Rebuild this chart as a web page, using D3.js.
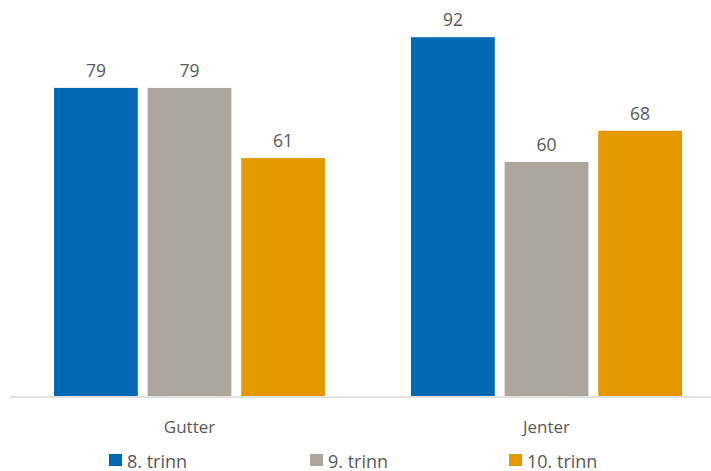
<!DOCTYPE html>
<html>
<head>
<meta charset="utf-8">
<script src="https://cdn.jsdelivr.net/npm/d3@7"></script>
<style>
  body { margin: 0; background: #fff; }
  text { font-family: "Open Sans", "Noto Sans", sans-serif; fill: #595959; }
</style>
</head>
<body>
<svg id="chart"></svg>
<script>
const width = 711;
const height = 471;

// data
const categories = ["Gutter", "Jenter"];
const series = ["8. trinn", "9. trinn", "10. trinn"];
const values = {
  "8. trinn": [79, 92],
  "9. trinn": [79, 60],
  "10. trinn": [61, 68]
};
const colors = ["#0069B4", "#ADA69F", "#E69800"];

const svg = d3.select('svg#chart').attr('width', width).attr('height', height)

const baseline = 396

var yScale = d3.scaleLinear()
  .domain([0, 100])
  .range([baseline, 6])

var x0 = d3.scaleBand()
  .domain(categories)
  .range([11, 725])

var x1 = d3.scaleBand()
  .domain(series)
  .range([43, 314])
  .paddingInner(0.105)

var colorScale = d3.scaleOrdinal().domain(series).range(colors)

var rows = []
series.forEach(s => categories.forEach((c, i) => rows.push({ series: s, cat: c, value: values[s][i] })))

// axis line
svg.append('line')
  .attr('x1', 10).attr('x2', width)
  .attr('y1', baseline + 1).attr('y2', baseline + 1)
  .attr('stroke', '#d9d9d9').attr('stroke-width', 1.5)

svg.append('g').selectAll('rect').data(rows)
  .enter().append('rect')
  .attr('x', d => x0(d.cat) + x1(d.series))
  .attr('y', d => yScale(d.value))
  .attr('width', x1.bandwidth())
  .attr('height', d => baseline - yScale(d.value))
  .attr('fill', d => colorScale(d.series))

svg.append('g').selectAll('text').data(rows)
  .enter().append('text')
  .attr('x', d => x0(d.cat) + x1(d.series) + x1.bandwidth() / 2)
  .attr('y', d => yScale(d.value) - 11)
  .attr('text-anchor', 'middle')
  .style('font-size', '17.5px')
  .text(d => d.value)

// category labels
svg.append('g').selectAll('text').data(categories)
  .enter().append('text')
  .attr('x', d => x0(d) + x0.bandwidth() / 2)
  .attr('y', 433)
  .attr('text-anchor', 'middle')
  .style('font-size', '17px')
  .text(d => d)

// legend
var legendX = [109, 310, 509]
var legend = svg.append('g').selectAll('g').data(series)
  .enter().append('g')
  .attr('transform', (d, i) => 'translate(' + legendX[i] + ',454)')
legend.append('rect')
  .attr('width', 13).attr('height', 12)
  .attr('fill', d => colorScale(d))
legend.append('text')
  .attr('x', 18).attr('y', 13.5)
  .style('font-size', '18px')
  .text(d => d)
</script>
</body>
</html>
